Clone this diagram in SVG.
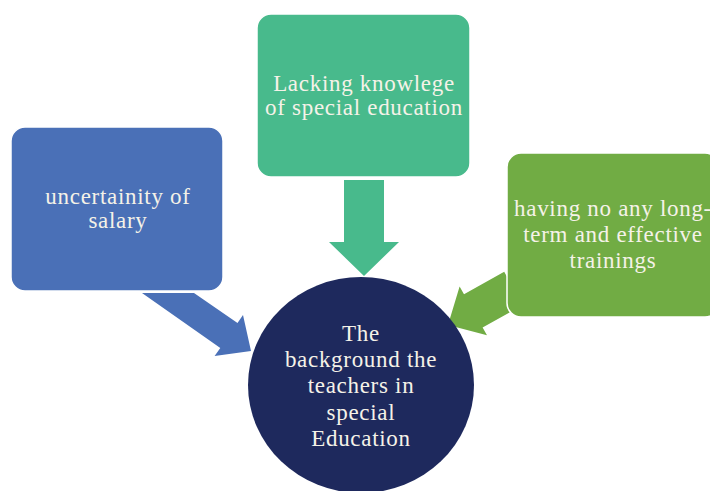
<svg xmlns="http://www.w3.org/2000/svg" width="710" height="491" viewBox="0 0 710 491">
<style>
.lbl{font-family:"Liberation Serif","Times New Roman",serif;font-size:23px;letter-spacing:0.7px;fill:#f5f2e8;text-anchor:middle}
.box{stroke:#ffffff;stroke-width:1.5}
</style>
<rect width="710" height="491" fill="#ffffff"/>
<g id="connectors">
<polygon id="arrow-salary" fill="#4A70B7" points="142,293 194,293 237.5,323 243,315 251,351 214.6,356 220.3,348"/>
<polygon id="arrow-knowledge" fill="#48BA8C" points="344,180 384,180 384,242 399,242 364,276 329,242 344,242"/>
<polygon id="arrow-training" fill="#71AC44" points="448,325 459.6,286.4 464,294.2 504.2,271.8 522.8,305 482.6,327.4 487,335.2"/>
</g>
<g id="node-salary">
<rect class="box" x="11" y="127" width="212" height="164" rx="14" fill="#4A70B7"/>
<text class="lbl" x="118" y="204">uncertainity of</text>
<text class="lbl" x="118" y="228">salary</text>
</g>
<g id="node-knowledge">
<rect class="box" x="257" y="14" width="213" height="163" rx="14" fill="#48BA8C"/>
<text class="lbl" x="364" y="91">Lacking knowlege</text>
<text class="lbl" x="364" y="115">of special education</text>
</g>
<g id="node-training">
<rect class="box" x="507" y="153" width="212" height="164" rx="14" fill="#71AC44"/>
<text class="lbl" x="613" y="216">having no any long-</text>
<text class="lbl" x="613" y="242">term and effective</text>
<text class="lbl" x="613" y="268">trainings</text>
</g>
<g id="node-center">
<ellipse cx="361" cy="385" rx="113" ry="108" fill="#1E295D"/>
<text class="lbl" x="361" y="341">The</text>
<text class="lbl" x="361" y="367">background the</text>
<text class="lbl" x="361" y="393">teachers  in</text>
<text class="lbl" x="361" y="420">special</text>
<text class="lbl" x="361" y="446">Education</text>
</g>
</svg>
